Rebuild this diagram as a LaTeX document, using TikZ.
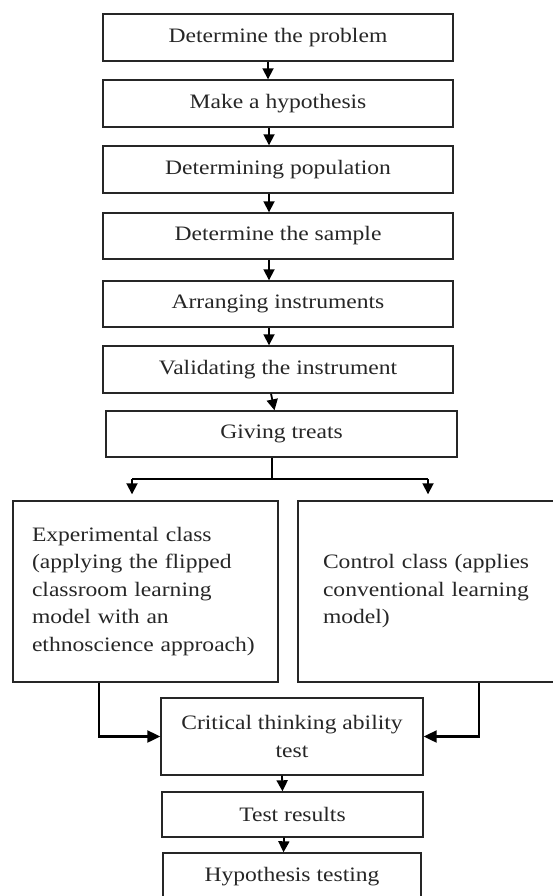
\documentclass[tikz,border=0pt]{standalone}
\usepackage{fontspec}
\setmainfont[FakeStretch=1.15]{Liberation Serif}
\usetikzlibrary{arrows.meta}
\begin{document}
\begin{tikzpicture}[x=1pt,y=-1pt,
  box/.style={draw=black!85, line width=1.4pt, inner sep=0pt, text=black!85, font={\fontsize{20.5}{27.5}\selectfont}, align=center},
  wide/.style={box, minimum width=350pt, minimum height=47pt},
  arr/.style={line width=1.8pt, -{Triangle[width=11pt,length=11pt]}},
  conn/.style={line width=2.2pt}]
\useasboundingbox (0,0) rectangle (552,896);
\node[wide] (b1) at (278,37.5) {Determine the problem};
\node[wide] (b2) at (278,103.5) {Make a hypothesis};
\node[wide] (b3) at (278,169.5) {Determining population};
\node[wide, minimum height=46pt] (b4) at (278,236) {Determine the sample};
\node[wide, minimum height=46pt] (b5) at (278,304) {Arranging instruments};
\node[wide] (b6) at (278,369.5) {Validating the instrument};
\node[box, minimum width=351pt, minimum height=46pt] (b7) at (281.5,434) {Giving treats};
\node[box, minimum width=265pt, minimum height=181pt, text width=227pt, inner xsep=19pt, align=left] (L) at (145.5,591.5)
  {Experimental class\\(applying the flipped\\classroom learning\\model with an\\ethnoscience approach)};
\node[box, minimum width=262pt, minimum height=181pt, text width=212pt, inner xsep=25pt, align=left] (R) at (429,591.5)
  {Control class (applies\\conventional learning\\model)};
\node[box, minimum width=262pt, minimum height=77pt] (C) at (292,736.5) {Critical thinking ability\\test};
\node[box, minimum width=261pt, minimum height=45pt] (T) at (292.5,814.5) {Test results};
\node[box, minimum width=258pt, minimum height=48pt] (H) at (292,877) {Hypothesis testing};
\draw[arr] ([xshift=-10pt]b1.south) -- ([xshift=-10pt]b2.north);
\draw[arr] ([xshift=-9pt]b2.south) -- ([xshift=-9pt]b3.north);
\draw[arr] ([xshift=-9pt]b3.south) -- ([xshift=-9pt]b4.north);
\draw[arr] ([xshift=-9pt]b4.south) -- ([xshift=-9pt]b5.north);
\draw[arr] ([xshift=-9pt]b5.south) -- ([xshift=-9pt]b6.north);
\draw[arr] ([xshift=-7pt]b6.south) -- ([xshift=-7pt]b7.north);
\coordinate (j) at (272,479);
\coordinate (jl) at (132,479);
\coordinate (jr) at (428,479);
\draw[conn] (j |- b7.south) -- (j);
\draw[conn] (jl) -- (jr);
\draw[arr, shorten >=6pt] (jl) -- (jl |- L.north);
\draw[arr, shorten >=6pt] (jr) -- (jr |- R.north);
\draw[conn, -{Triangle[width=12pt,length=13pt]}] ([xshift=-46.5pt]L.south) |- (C.west);
\draw[conn, -{Triangle[width=12pt,length=13pt]}] ([xshift=50pt]R.south) |- (C.east);
\draw[arr] ([xshift=-10pt]C.south) -- ([xshift=-10pt]T.north);
\draw[arr] ([xshift=-8.5pt]T.south) -- ([xshift=-8.5pt]H.north);
\end{tikzpicture}
\end{document}
